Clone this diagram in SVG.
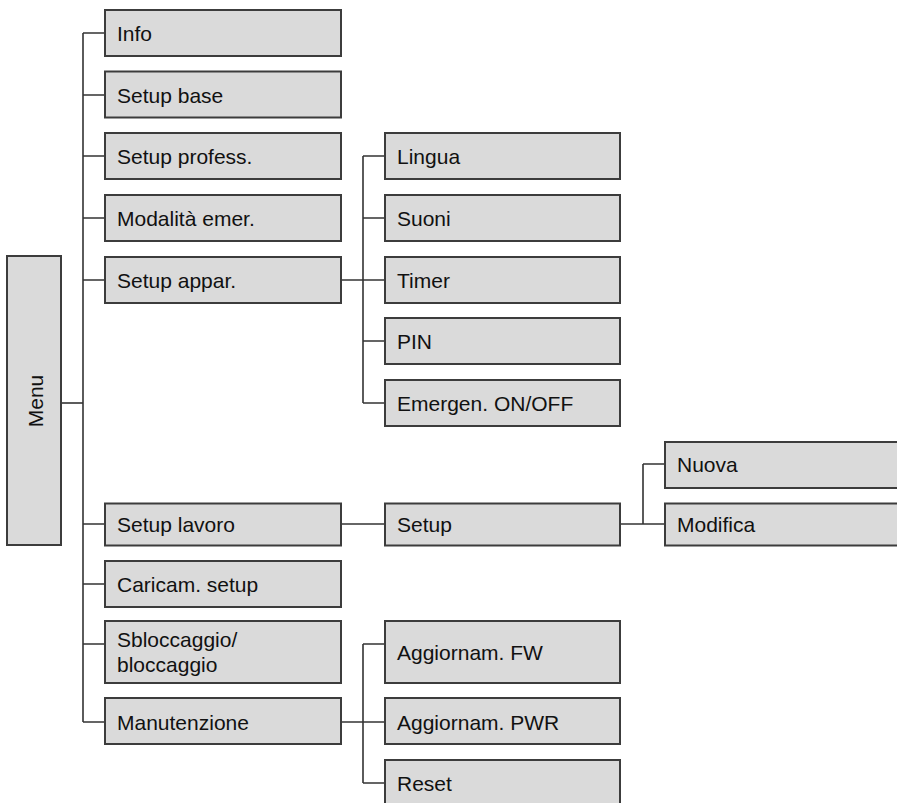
<svg xmlns="http://www.w3.org/2000/svg" width="897" height="803" viewBox="0 0 897 803">
  <style>
    .box { fill: #dadada; stroke: #3c3c3c; stroke-width: 2; }
    .lbl { font-family: "Liberation Sans", Arial, sans-serif; font-size: 21px; fill: #111; }
    .wire { fill: none; stroke: #333; stroke-width: 1.6; }
  </style>
  <rect width="897" height="803" fill="#ffffff"/>

  <!-- connectors -->
  <g id="connectors" class="wire">
    <!-- Menu trunk -->
    <path d="M61 403 H83"/>
    <path d="M83 33 V722"/>
    <path d="M83 33 H105 M83 95 H105 M83 156 H105 M83 218 H105 M83 280 H105 M83 524 H105 M83 584 H105 M83 644 H105 M83 722 H105"/>
    <!-- Setup appar. branch -->
    <path d="M341 280 H385"/>
    <path d="M363 156 V403"/>
    <path d="M363 156 H385 M363 218 H385 M363 341 H385 M363 403 H385"/>
    <!-- Setup lavoro branch -->
    <path d="M341 524 H385"/>
    <path d="M620 524 H665"/>
    <path d="M643 464 V524 M643 464 H665"/>
    <!-- Manutenzione branch -->
    <path d="M341 722 H385"/>
    <path d="M363 644 V783"/>
    <path d="M363 644 H385 M363 783 H385"/>
  </g>

  <!-- root -->
  <g id="menu">
    <rect class="box" x="7" y="256" width="54" height="289"/>
    <text class="lbl" text-anchor="middle" transform="translate(42.5 401) rotate(-90)">Menu</text>
  </g>

  <!-- first level -->
  <g id="info"><rect class="box" x="105" y="10" width="236" height="46"/><text class="lbl" x="117" y="41">Info</text></g>
  <g id="setup-base"><rect class="box" x="105" y="71.5" width="236" height="46"/><text class="lbl" x="117" y="102.5">Setup base</text></g>
  <g id="setup-profess"><rect class="box" x="105" y="133" width="236" height="46"/><text class="lbl" x="117" y="164">Setup profess.</text></g>
  <g id="modalita-emer"><rect class="box" x="105" y="195" width="236" height="46"/><text class="lbl" x="117" y="226">Modalità emer.</text></g>
  <g id="setup-appar"><rect class="box" x="105" y="257" width="236" height="46"/><text class="lbl" x="117" y="288">Setup appar.</text></g>
  <g id="setup-lavoro"><rect class="box" x="105" y="503.5" width="236" height="42"/><text class="lbl" x="117" y="532">Setup lavoro</text></g>
  <g id="caricam-setup"><rect class="box" x="105" y="561" width="236" height="46"/><text class="lbl" x="117" y="592">Caricam. setup</text></g>
  <g id="sbloccaggio"><rect class="box" x="105" y="621" width="236" height="62"/><text class="lbl" x="117" y="646.5">Sbloccaggio/</text><text class="lbl" x="117" y="671.5">bloccaggio</text></g>
  <g id="manutenzione"><rect class="box" x="105" y="698" width="236" height="46"/><text class="lbl" x="117" y="729.5">Manutenzione</text></g>

  <!-- Setup appar. children -->
  <g id="lingua"><rect class="box" x="385" y="133" width="235" height="46"/><text class="lbl" x="397" y="164">Lingua</text></g>
  <g id="suoni"><rect class="box" x="385" y="195" width="235" height="46"/><text class="lbl" x="397" y="226">Suoni</text></g>
  <g id="timer"><rect class="box" x="385" y="257" width="235" height="46"/><text class="lbl" x="397" y="288">Timer</text></g>
  <g id="pin"><rect class="box" x="385" y="318" width="235" height="46"/><text class="lbl" x="397" y="349">PIN</text></g>
  <g id="emergen"><rect class="box" x="385" y="380" width="235" height="46"/><text class="lbl" x="397" y="411">Emergen. ON/OFF</text></g>

  <!-- Setup lavoro children -->
  <g id="setup"><rect class="box" x="385" y="503.5" width="235" height="42"/><text class="lbl" x="397" y="532">Setup</text></g>
  <g id="nuova"><rect class="box" x="665" y="442" width="240" height="46"/><text class="lbl" x="677" y="472">Nuova</text></g>
  <g id="modifica"><rect class="box" x="665" y="503.5" width="240" height="42"/><text class="lbl" x="677" y="532">Modifica</text></g>

  <!-- Manutenzione children -->
  <g id="aggiornam-fw"><rect class="box" x="385" y="621" width="235" height="62"/><text class="lbl" x="397" y="659.5">Aggiornam. FW</text></g>
  <g id="aggiornam-pwr"><rect class="box" x="385" y="698" width="235" height="46"/><text class="lbl" x="397" y="729.5">Aggiornam. PWR</text></g>
  <g id="reset"><rect class="box" x="385" y="760" width="235" height="60"/><text class="lbl" x="397" y="791">Reset</text></g>
</svg>
